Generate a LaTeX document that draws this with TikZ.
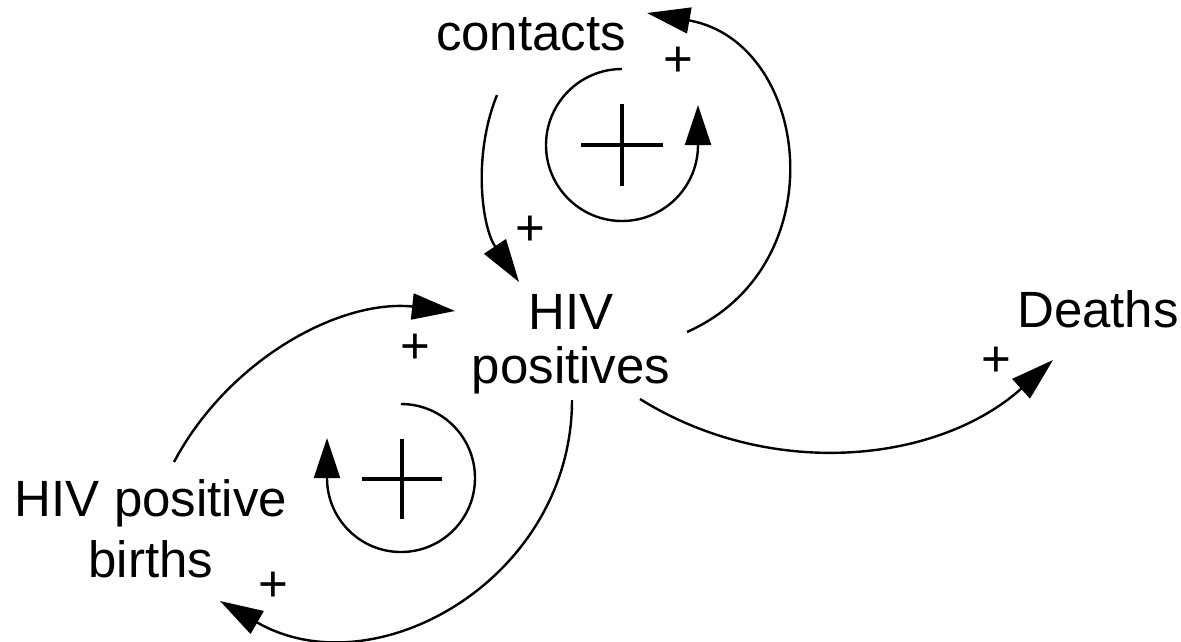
\documentclass[tikz,border=0pt]{standalone}
\usepackage{fontspec}
\setmainfont{Liberation Sans}
\usetikzlibrary{arrows.meta}

\begin{document}
\begin{tikzpicture}[x=1pt, y=1pt,
    varlbl/.style={font=\fontsize{51}{54}\selectfont, inner sep=0pt, align=center, anchor=base},
    pol/.style={font=\fontsize{51}{54}\selectfont, inner sep=0pt, anchor=base},
    arr/.style={-{Triangle[length=43pt,width=26pt]}, line width=2.4pt},
    looparr/.style={-{Triangle[length=40pt,width=26pt]}, line width=2.4pt},
    loopsign/.style={line width=4.5pt}
]
\useasboundingbox (0,0) rectangle (1181,-641);

\node[varlbl] (contacts) at (531,-50) {contacts};
\node[varlbl] (hivpos) at (571,-383) {HIV\\positives};
\node[varlbl] (deaths) at (1098,-327) {Deaths};
\node[varlbl] (births) at (151,-577) {HIV positive\\[7pt]births};

% causal links
\draw[arr] ([shift={(-34,-45)}]contacts.base) to[out=248,in=124,looseness=0.9] ([shift={(-52,101)}]hivpos.base);
\draw[arr] ([shift={(116,51)}]hivpos.base) to[out=24,in=-10,looseness=1.32] ([shift={(116,37)}]contacts.base);
\draw[arr] ([shift={(69,-16)}]hivpos.base) to[out=-32,in=222,looseness=0.95] ([shift={(-45,-33)}]deaths.base);
\draw[arr] ([shift={(1,-17)}]hivpos.base) to[out=-90,in=-30,looseness=1.13] ([shift={(69,-24)}]births.base);
\draw[arr] ([shift={(23,115)}]births.base) to[out=62,in=174,looseness=0.93] ([shift={(-116,72)}]hivpos.base);

% polarities
\node[pol] (polA) at (530,-245) {+};
\node[pol] (polB) at (678,-76) {+};
\node[pol] (polC) at (996,-376) {+};
\node[pol] (polD) at (273,-601) {+};
\node[pol] (polE) at (415,-363) {+};

% loop markers
\draw[looparr] (622,-69) arc[start angle=90, end angle=360, radius=76] -- ++(0,40);
\draw[loopsign] (581,-145) -- (663,-145) (622,-104) -- (622,-186);
\draw[looparr] (401,-404) arc[start angle=90, end angle=-180, radius=74] -- ++(0,40);
\draw[loopsign] (362,-479) -- (442,-479) (402,-439) -- (402,-519);
\end{tikzpicture}
\end{document}
